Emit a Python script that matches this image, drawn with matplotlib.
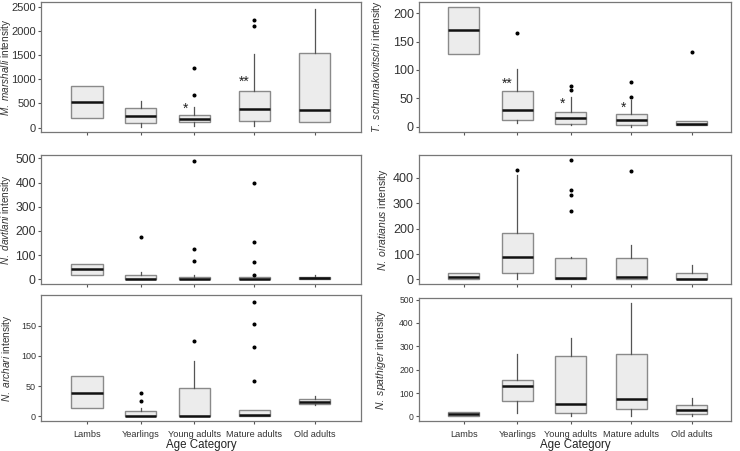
import matplotlib
matplotlib.use("Agg")
import matplotlib.pyplot as plt

plt.rcParams["font.family"] = ["Liberation Sans", "DejaVu Sans"]
plt.rcParams["mathtext.fontset"] = "custom"
plt.rcParams["mathtext.rm"] = "Liberation Sans"
plt.rcParams["mathtext.it"] = "Liberation Sans:italic"

ages = ["Lambs", "Yearlings", "Young adults", "Mature adults", "Old adults"]

# M. marshalli
mm_q1 = [202, 98, 110, 132, 120]
mm_med = [527, 250, 180, 390, 360]
mm_q3 = [860, 402, 265, 765, 1535]
mm_lo = [202, 6, 42, 42, 120]
mm_hi = [860, 562, 437, 1520, 2450]
mm_out = [[], [], [1243, 673], [2230, 2100], []]
mm_stars = {2: ("*", 395), 3: ("**", 940)}

# T. schumakovitschi
ts_q1 = [129, 12, 5, 2, 2]
ts_med = [170, 29, 15, 11, 5]
ts_q3 = [212, 63, 25, 22, 10]
ts_lo = [129, 6, 3, 0, 2]
ts_hi = [212, 101, 53, 47, 10]
ts_out = [[], [165], [72, 64], [78, 53], [132]]
ts_stars = {1: ("**", 76), 2: ("*", 40), 3: ("*", 34)}

# N. davtlani
nd_q1 = [18, 0, 0, 0, 1]
nd_med = [41, 0, 0, 2, 4]
nd_q3 = [62, 16, 11, 7, 11]
nd_lo = [18, 0, 0, 0, 1]
nd_hi = [62, 28, 18, 7, 18]
nd_out = [[], [175], [490, 124, 76], [400, 152, 70, 17], []]

# N. oiratianus
no_q1 = [0, 26, 0, 0, 0]
no_med = [10, 87, 5, 10, 0]
no_q3 = [24, 184, 83, 84, 27]
no_lo = [0, 0, 0, 0, 0]
no_hi = [24, 410, 87, 135, 56]
no_out = [[], [430], [470, 351, 334, 269], [428], []]

# N. archari
na_q1 = [13, 0, 0, 0, 21]
na_med = [39, 0, 0, 2, 23]
na_q3 = [67, 8, 47, 10, 28]
na_lo = [13, 0, 0, 0, 19]
na_hi = [67, 13, 91, 10, 33]
na_out = [[], [38, 25], [124], [190, 153, 115, 59], []]

# N. spathiger
ns_q1 = [3, 65, 14, 31, 11]
ns_med = [10, 128, 55, 75, 26]
ns_q3 = [17, 155, 258, 266, 48]
ns_lo = [3, 14, 3, 0, 0]
ns_hi = [17, 266, 334, 486, 77]
ns_out = [[], [], [], [], []]

positions = [1, 2, 3, 4.13, 5.26]

fig = plt.figure(figsize=(7.4, 4.51), dpi=100)

panels = [
    # rect, species, stats, stars, ylim, yticks, bottom row, xlim, ylabel x, label size, tick size
    ([0.0554, 0.7073, 0.4324, 0.2882], "M. marshalli",
     (mm_q1, mm_med, mm_q3, mm_lo, mm_hi, mm_out), mm_stars,
     (-90, 2600), [0, 500, 1000, 1500, 2000, 2500], False, (0.14, 6.12), -0.087, 7.2, 8.0),
    ([0.5662, 0.7073, 0.4216, 0.2882], "T. schumakovitschi",
     (ts_q1, ts_med, ts_q3, ts_lo, ts_hi, ts_out), ts_stars,
     (-9.5, 220), [0, 50, 100, 150, 200], False, (0.16, 5.99), -0.112, 7.5, 9),
    ([0.0554, 0.3703, 0.4324, 0.2860], "N. davtlani",
     (nd_q1, nd_med, nd_q3, nd_lo, nd_hi, nd_out), {},
     (-20, 514), [0, 100, 200, 300, 400, 500], False, (0.14, 6.12), -0.088, 7.2, 8.8),
    ([0.5662, 0.3703, 0.4216, 0.2860], "N. oiratianus",
     (no_q1, no_med, no_q3, no_lo, no_hi, no_out), {},
     (-18, 490), [0, 100, 200, 300, 400], False, (0.16, 5.99), -0.094, 7.5, 9),
    ([0.0554, 0.0665, 0.4324, 0.2794], "N. archari",
     (na_q1, na_med, na_q3, na_lo, na_hi, na_out), {},
     (-8, 201), [0, 50, 100, 150], True, (0.14, 6.12), -0.085, 7.3, 6.5),
    ([0.5662, 0.0665, 0.4216, 0.2727], "N. spathiger",
     (ns_q1, ns_med, ns_q3, ns_lo, ns_hi, ns_out), {},
     (-20, 507), [0, 100, 200, 300, 400, 500], True, (0.16, 5.99), -0.100, 7.5, 6.2),
]

for (rect, species, (q1, med, q3, lo, hi, out), stars, ylim, yticks, bottom,
     xlim, lab_x, lab_size, tick_size) in panels:
    ax = fig.add_axes(rect)
    stats = []
    for i in range(len(ages)):
        stats.append(dict(q1=q1[i], med=med[i], q3=q3[i],
                          whislo=lo[i], whishi=hi[i], fliers=out[i]))
    ax.bxp(stats, positions=positions, widths=0.58, patch_artist=True,
           showcaps=False,
           boxprops=dict(facecolor="#ececec", edgecolor="#8a8a8a", linewidth=1.0),
           medianprops=dict(color="#111111", linewidth=1.8),
           whiskerprops=dict(color="#555555", linewidth=0.9),
           flierprops=dict(marker="o", markersize=1.9, markerfacecolor="black",
                           markeredgecolor="black"))
    for idx, (s, y) in stars.items():
        ax.text(positions[idx] - 0.1, y, s, ha="right", va="center",
                fontsize=10, color="#222222")
    ax.set_xlim(*xlim)
    ax.set_ylim(*ylim)
    ax.set_yticks(yticks)
    ax.set_xticks(positions)
    for sp in ax.spines.values():
        sp.set_color("#777777")
        sp.set_linewidth(0.9)
    ax.tick_params(colors="#555555", length=2.5, width=0.8, pad=1.2)
    ax.tick_params(axis="y", labelsize=tick_size, labelcolor="#333333")
    if bottom:
        ax.set_xticklabels(ages, fontsize=6.6, color="#333333")
        ax.tick_params(axis="x", pad=4)
        ax.set_xlabel("Age Category", fontsize=8.3, color="#222222")
        ax.xaxis.set_label_coords(0.5, -0.145)
    else:
        ax.set_xticklabels([])
    name = species.replace(" ", r"\ ")
    ax.set_ylabel(r"$\it{" + name + r"}$ intensity", fontsize=lab_size,
                  color="#333333")
    ax.yaxis.set_label_coords(lab_x, 0.5)

fig.savefig("out.png", dpi=100)
